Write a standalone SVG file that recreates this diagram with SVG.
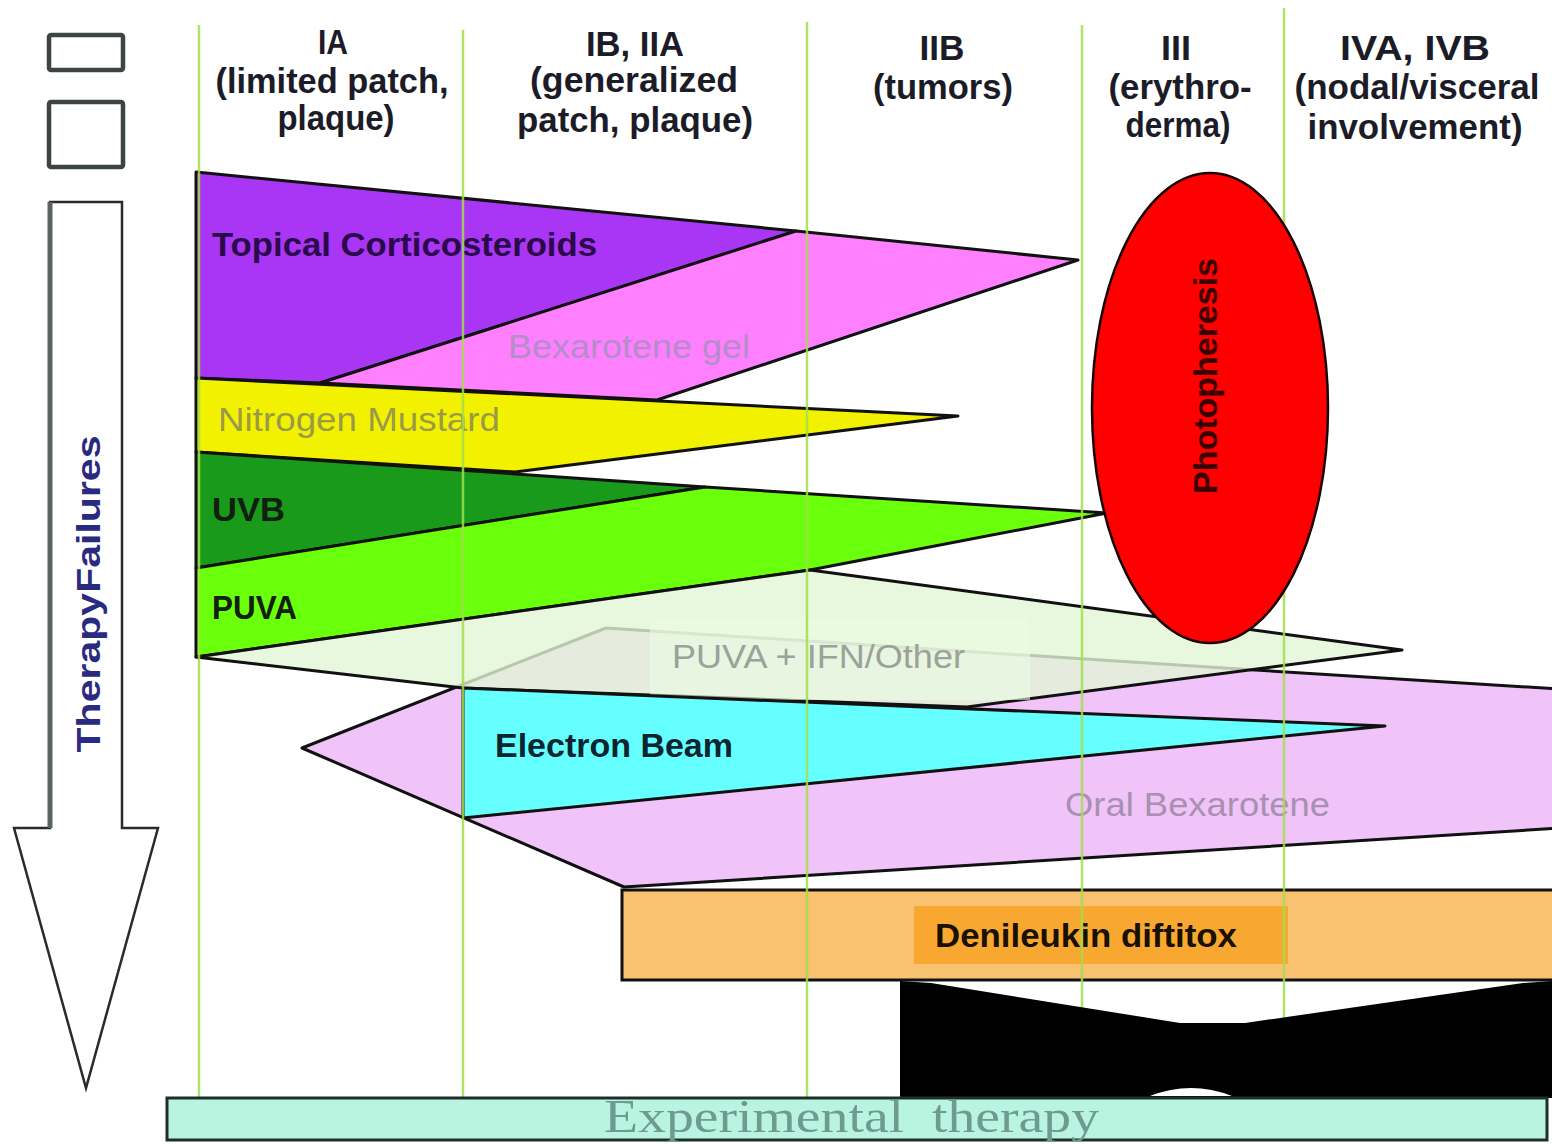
<svg xmlns="http://www.w3.org/2000/svg" width="1552" height="1144" viewBox="0 0 1552 1144">
<style>
.hd{font-family:"Liberation Sans",Arial,sans-serif;font-weight:bold;font-size:35px;fill:#1c1c28;text-anchor:middle}
.lb{font-family:"Liberation Sans",Arial,sans-serif;font-size:33px}
.b{font-weight:bold}
.sh{stroke:#111;stroke-width:3;stroke-linejoin:round}
.grid line{stroke:#a4df4c;stroke-width:2.5;opacity:0.85}
.legend{fill:#fff;stroke:#3c4444;stroke-width:4.5}
</style>
<rect width="1552" height="1144" fill="#fff"/>

<g id="legend">
<rect class="legend" x="49" y="35" width="74" height="35" rx="2"/>
<rect class="legend" x="49" y="102" width="74" height="65" rx="2"/>
</g>

<g id="therapy-failures-arrow">
<polygon points="50,202 122,202 122,828 158,828 86,1088 14,828 50,828" fill="#fff" stroke="#2a2a2a" stroke-width="2.5" stroke-linejoin="miter"/>
<line x1="50" y1="202" x2="50" y2="828" stroke="#5a6262" stroke-width="5"/>
<text class="lb b" transform="translate(100,594) rotate(-90)" text-anchor="middle" font-size="40" fill="#2a2a80" textLength="317" lengthAdjust="spacingAndGlyphs">TherapyFailures</text>
</g>

<g id="headers">
<text class="hd" x="333" y="54" font-size="32" textLength="30" lengthAdjust="spacingAndGlyphs">IA</text>
<text class="hd" x="332" y="93" textLength="233" lengthAdjust="spacingAndGlyphs">(limited patch,</text>
<text class="hd" x="336" y="130" textLength="117" lengthAdjust="spacingAndGlyphs">plaque)</text>
<text class="hd" x="635" y="56" textLength="98" lengthAdjust="spacingAndGlyphs">IB, IIA</text>
<text class="hd" x="634" y="92" textLength="208" lengthAdjust="spacingAndGlyphs">(generalized</text>
<text class="hd" x="635" y="132" textLength="236" lengthAdjust="spacingAndGlyphs">patch, plaque)</text>
<text class="hd" x="942" y="60" font-size="40" textLength="45" lengthAdjust="spacingAndGlyphs">IIB</text>
<text class="hd" x="943" y="99" textLength="140" lengthAdjust="spacingAndGlyphs">(tumors)</text>
<text class="hd" x="1176" y="60" font-size="40" textLength="30" lengthAdjust="spacingAndGlyphs">III</text>
<text class="hd" x="1180" y="99" textLength="143" lengthAdjust="spacingAndGlyphs">(erythro-</text>
<text class="hd" x="1178" y="137" textLength="105" lengthAdjust="spacingAndGlyphs">derma)</text>
<text class="hd" x="1415" y="60" font-size="40" textLength="150" lengthAdjust="spacingAndGlyphs">IVA, IVB</text>
<text class="hd" x="1417" y="99" textLength="245" lengthAdjust="spacingAndGlyphs">(nodal/visceral</text>
<text class="hd" x="1415" y="139" textLength="215" lengthAdjust="spacingAndGlyphs">involvement)</text>
</g>

<g id="topical-corticosteroids">
<polygon class="sh" points="196,172 796,231 320,383 196,378" fill="#a935f5"/>
<text class="lb b" x="212" y="256" fill="#2a0a4a" textLength="385" lengthAdjust="spacingAndGlyphs">Topical Corticosteroids</text>
</g>

<g id="bexarotene-gel">
<polygon class="sh" points="796,231 1078,260 657,400 320,383" fill="#ff80ff"/>
<text class="lb" x="508" y="358" fill="#b48cc8" textLength="242" lengthAdjust="spacingAndGlyphs">Bexarotene gel</text>
</g>

<g id="nitrogen-mustard">
<polygon class="sh" points="196,378 958,416 515,472 196,452" fill="#f2f200"/>
<text class="lb" x="218" y="431" fill="#9a9a48" textLength="282" lengthAdjust="spacingAndGlyphs">Nitrogen Mustard</text>
</g>

<g id="uvb">
<polygon class="sh" points="196,452 705,487 196,568" fill="#1a9a1a"/>
<text class="lb b" x="212" y="521" fill="#102010" textLength="73" lengthAdjust="spacingAndGlyphs">UVB</text>
</g>

<g id="puva">
<polygon class="sh" points="705,487 1107,513 810,570 196,657 196,568" fill="#6aff0a"/>
<text class="lb b" x="212" y="619" fill="#102010" textLength="85" lengthAdjust="spacingAndGlyphs">PUVA</text>
</g>

<g id="oral-bexarotene">
<polygon class="sh" points="302,748 606,628 1255,670 1560,689 1560,828 624,887" fill="#f0c4f8"/>
<text class="lb" x="1065" y="816" fill="#a890b0" textLength="265" lengthAdjust="spacingAndGlyphs">Oral Bexarotene</text>
</g>

<g id="puva-ifn-other">
<polygon class="sh" points="196,657 810,570 1402,650 967,707 463,688" fill="#e2f6d6" fill-opacity="0.8"/>
<rect x="650" y="618" width="380" height="82" fill="#eafbe2" opacity="0.6"/>
<text class="lb" x="672" y="668" fill="#9aa29a" textLength="293" lengthAdjust="spacingAndGlyphs">PUVA  + IFN/Other</text>
</g>

<g id="electron-beam">
<polygon class="sh" points="463,688 1385,726 463,818" fill="#66ffff"/>
<text class="lb b" x="495" y="757" fill="#0a2530" textLength="238" lengthAdjust="spacingAndGlyphs">Electron Beam</text>
</g>

<g id="denileukin-diftitox">
<rect x="622" y="890" width="940" height="90" fill="#f8c270" stroke="#111" stroke-width="3"/>
<rect x="914" y="906" width="374" height="58" fill="#f8a830"/>
<text class="lb b" x="935" y="947" fill="#1a1000" textLength="302" lengthAdjust="spacingAndGlyphs">Denileukin diftitox</text>
</g>

<g id="connectors" class="grid">
<line x1="199" y1="25" x2="199" y2="1098"/>
<line x1="463" y1="30" x2="463" y2="1098"/>
<line x1="807" y1="22" x2="807" y2="1098"/>
<line x1="1082" y1="25" x2="1082" y2="1098"/>
<line x1="1284" y1="8" x2="1284" y2="1098"/>
</g>

<g id="photopheresis">
<ellipse cx="1210" cy="408" rx="118" ry="235" fill="#ff0000" stroke="#1a0000" stroke-width="2.5"/>
<text class="lb b" transform="translate(1217,376) rotate(-90)" text-anchor="middle" fill="#3a0000" textLength="236" lengthAdjust="spacingAndGlyphs">Photopheresis</text>
</g>

<g id="black-block">
<polygon points="900,981 931,983 1180,1023 1245,1023 1523,983 1552,981 1552,1098 900,1098" fill="#000"/>
<path d="M1150,1096 Q1191,1080 1232,1096 Z" fill="#fff"/>
</g>

<g id="experimental-therapy">
<rect x="167" y="1098" width="1380" height="42" fill="#b8f4e0" stroke="#1e2e2e" stroke-width="3"/>
<text x="604" y="1132" font-family="'Liberation Serif','Times New Roman',serif" font-size="46" fill="#6f9a92" style="white-space:pre" textLength="495" lengthAdjust="spacingAndGlyphs">Experimental  therapy</text>
</g>
</svg>
